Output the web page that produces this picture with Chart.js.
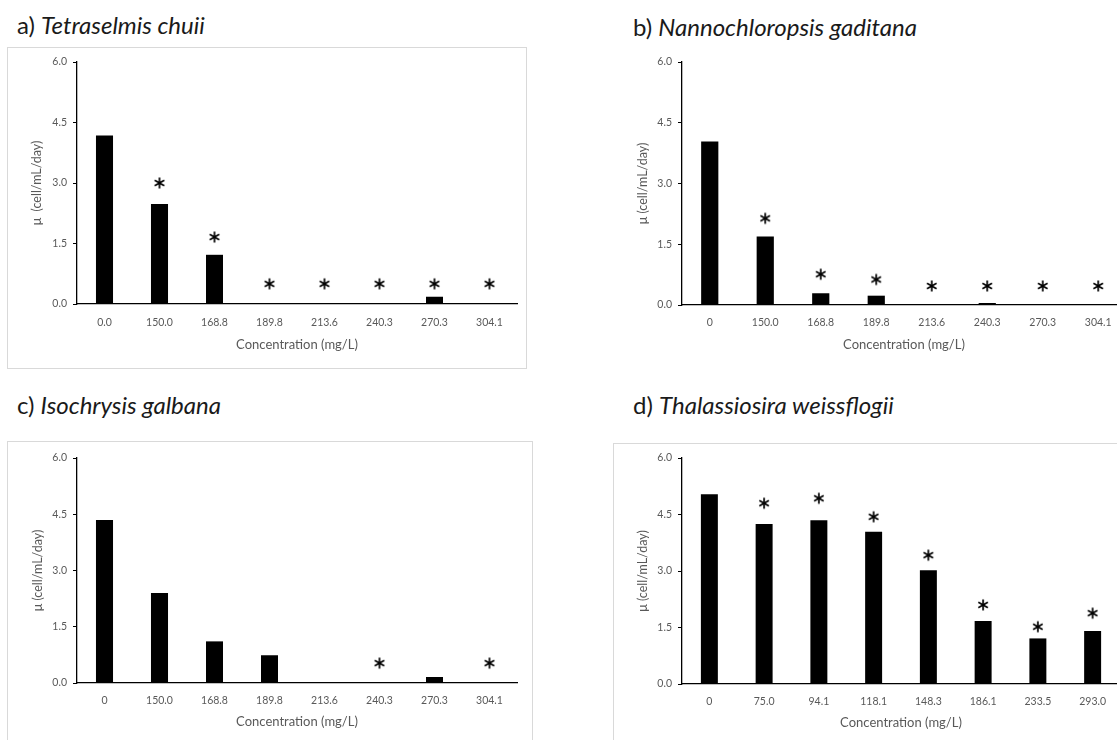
<!DOCTYPE html>
<html>
<head>
<meta charset="utf-8">
<script src="https://cdn.jsdelivr.net/npm/chart.js@4.4.1/dist/chart.umd.min.js"></script>
<style>
  body { margin:0; width:1117px; height:740px; overflow:hidden; background:#fff; position:relative; font-family: Lato, "Open Sans", sans-serif; }
  .titulo { position:absolute; font-size:24px; color:#1a1a1a; white-space:nowrap; line-height:1; }
  .marco { position:absolute; border:1px solid #d9d9d9; box-sizing:border-box; }
  canvas { position:absolute; }
</style>
</head>
<body>

<div class="titulo" style="left:17px; top:13px">a) <i>Tetraselmis chuii</i></div>
<div class="titulo" style="left:633px; top:15px">b) <i>Nannochloropsis gaditana</i></div>
<div class="titulo" style="left:17px; top:393px">c) <i>Isochrysis galbana</i></div>
<div class="titulo" style="left:633px; top:393px">d) <i>Thalassiosira weissflogii</i></div>

<div class="marco" style="left:7px; top:47px; width:520px; height:322px"></div>
<div class="marco" style="left:7px; top:441px; width:526px; height:320px"></div>
<div class="marco" style="left:613px; top:443px; width:520px; height:320px"></div>

<canvas id="grafA" width="518" height="321" style="left:7px; top:47px"></canvas>
<canvas id="grafB" width="520" height="321" style="left:613px; top:47px"></canvas>
<canvas id="grafC" width="525" height="310" style="left:7px; top:441px"></canvas>
<canvas id="grafD" width="520" height="310" style="left:613px; top:443px"></canvas>

<script>
// datos
const concA = ["0.0", "150.0", "168.8", "189.8", "213.6", "240.3", "270.3", "304.1"];
const muA = [4.18, 2.48, 1.22, 0, 0, 0, 0.18, 0];
const astA = [null, 3.0, 1.66, 0.5, 0.5, 0.5, 0.5, 0.5];

const concB = ["0", "150.0", "168.8", "189.8", "213.6", "240.3", "270.3", "304.1"];
const muB = [4.04, 1.69, 0.29, 0.23, 0, 0.05, 0, 0];
const astB = [null, 2.14, 0.76, 0.63, 0.47, 0.47, 0.47, 0.47];

const concC = ["0", "150.0", "168.8", "189.8", "213.6", "240.3", "270.3", "304.1"];
const muC = [4.35, 2.40, 1.11, 0.74, 0, 0, 0.16, 0];
const astC = [null, null, null, null, null, 0.53, null, 0.53];

const concD = ["0", "75.0", "94.1", "118.1", "148.3", "186.1", "233.5", "293.0"];
const muD = [5.04, 4.25, 4.35, 4.04, 3.02, 1.67, 1.21, 1.41];
const astD = [null, 4.80, 4.93, 4.44, 3.42, 2.10, 1.52, 1.88];

const ticksY = [0, 1.5, 3.0, 4.5, 6.0];

const gris = "#595959";

function crearAsterisco() {
  const c = document.createElement("canvas");
  c.width = 14;
  c.height = 14;
  const g = c.getContext("2d");
  g.strokeStyle = "#000";
  g.lineWidth = 1.7;
  g.translate(7, 7);
  [90, 30, 150].forEach(a => {
    const r = a * Math.PI / 180;
    g.beginPath();
    g.moveTo(-5.5 * Math.cos(r), -5.5 * Math.sin(r));
    g.lineTo(5.5 * Math.cos(r), 5.5 * Math.sin(r));
    g.stroke();
  });
  return c;
}
const asterisco = crearAsterisco();

// p: posición de la gráfica en la página (lienzo y área de trazado)
function crearPanel(id, etiquetas, valores, asteriscos, tituloEje, p) {
  const fuenteTick = 10.5, fuenteTitulo = 13, fuenteTituloY = 12.5;
  const altoX = p.top + p.h - p.B;
  const anchoY = p.L - p.left;
  new Chart(document.getElementById(id), {
    data: {
      labels: etiquetas,
      datasets: [
        {
          type: "bar",
          data: valores,
          backgroundColor: "#000",
          barPercentage: 1,
          categoryPercentage: 0.31,
          order: 2
        },
        {
          type: "line",
          data: asteriscos,
          showLine: false,
          pointStyle: asterisco,
          pointRadius: 6,
          order: 1
        }
      ]
    },
    options: {
      responsive: false,
      animation: false,
      layout: { padding: { left: 0, bottom: 0, top: p.T - p.top, right: p.left + p.w - p.R } },
      plugins: { legend: { display: false }, tooltip: { enabled: false } },
      scales: {
        x: {
          grid: { display: false, drawTicks: false },
          border: { display: true, color: "#000", width: 1.3 },
          ticks: {
            color: gris, autoSkip: false, maxRotation: 0,
            font: { family: "Lato", size: fuenteTick },
            padding: p.etiq - p.B - fuenteTick * 0.6
          },
          title: {
            display: true, text: "Concentration (mg/L)", color: gris,
            font: { family: "Lato", size: fuenteTitulo },
            padding: { top: 0, bottom: (p.top + p.h - p.tituloX) - fuenteTitulo * 0.6 }
          },
          afterFit: s => { s.height = altoX; }
        },
        y: {
          min: 0, max: 6,
          afterBuildTicks: s => { s.ticks = ticksY.map(v => ({ value: v })); },
          grid: { drawOnChartArea: false, drawTicks: true, tickLength: 4, color: "#000", lineWidth: 1 },
          border: { display: true, color: "#000", width: 1.3 },
          ticks: {
            color: gris, padding: 6,
            font: { family: "Lato", size: 10.5 },
            callback: v => v.toFixed(1)
          },
          title: {
            display: true, text: tituloEje, color: gris,
            font: { family: "Lato", size: fuenteTituloY },
            padding: { top: (p.tituloY - p.left) - fuenteTituloY * 0.6, bottom: 0 }
          },
          afterFit: s => { s.width = anchoY; }
        }
      }
    }
  });
}

crearPanel("grafA", concA, muA, astA, "\u03bc  (cell/mL/day)",
  { left: 7, top: 47, w: 518, h: 321, L: 77, R: 517, T: 62, B: 304, etiq: 323, tituloX: 345, tituloY: 37 });
crearPanel("grafB", concB, muB, astB, "\u03bc (cell/mL/day)",
  { left: 613, top: 47, w: 520, h: 321, L: 682, R: 1129, T: 62, B: 305, etiq: 323, tituloX: 345, tituloY: 643 });
crearPanel("grafC", concC, muC, astC, "\u03bc (cell/mL/day)",
  { left: 7, top: 441, w: 525, h: 310, L: 77, R: 517, T: 458, B: 683, etiq: 701, tituloX: 722, tituloY: 38 });
crearPanel("grafD", concD, muD, astD, "\u03bc (cell/mL/day)",
  { left: 613, top: 443, w: 520, h: 310, L: 682, R: 1120, T: 458, B: 684, etiq: 702, tituloX: 723, tituloY: 643 });
</script>
</body>
</html>
